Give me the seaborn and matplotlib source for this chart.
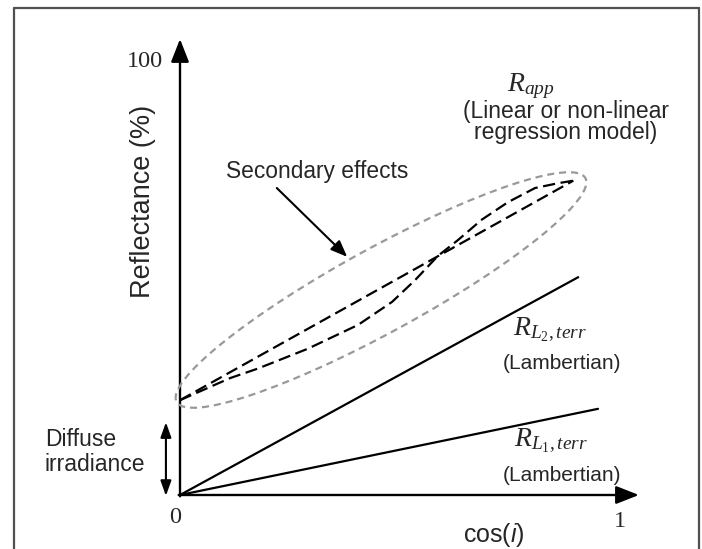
import numpy as np
import pandas as pd
import seaborn as sns
import matplotlib
matplotlib.use("Agg")
import matplotlib.pyplot as plt
from matplotlib.patches import Ellipse
from matplotlib.lines import Line2D
import matplotlib.transforms as mtransforms

# ---- data ----
cos_i_L1 = [0.0, 0.95]
refl_L1 = [0.0, 19.9]
cos_i_L2 = [0.0, 0.905]
refl_L2 = [0.0, 50.3]
cos_i_app_lin = [0.0, 0.894]
refl_app_lin = [21.9, 72.6]
cos_i_app_nl = [0.0, 0.114, 0.177, 0.291, 0.405, 0.482, 0.534, 0.586,
                0.632, 0.686, 0.745, 0.807, 0.859, 0.894]
refl_app_nl = [21.9, 27.0, 29.2, 33.8, 39.3, 44.6, 49.6, 55.2,
               58.9, 63.6, 67.6, 70.9, 72.0, 72.6]
x_tick_labels = ["0", "1"]
y_tick_label = "100"

sns.set_theme(style="white")
plt.rcParams["font.family"] = ["Liberation Sans", "DejaVu Sans"]
plt.rcParams["mathtext.fontset"] = "custom"
plt.rcParams["mathtext.rm"] = "Liberation Serif"
plt.rcParams["mathtext.it"] = "Liberation Serif:italic"
plt.rcParams["mathtext.sf"] = "Liberation Sans:italic"

W, H = 702, 549
fig = plt.figure(figsize=(W / 100, H / 100), dpi=100)
ax = fig.add_axes([0, 0, 1, 1])
# pixel mapping: x=0 -> 180px, x=1 -> 620px ; y=0 -> 495px, y=100 -> 62px
sx, sy = 440.0, 4.33
ax.set_xlim(-180 / sx, (W - 180) / sx)
ax.set_ylim(-(H - 495) / sy, 495 / sy)
ax.axis("off")

pix = mtransforms.Affine2D().scale(1 / 100) + fig.dpi_scale_trans

# frame
frame_kw = dict(color="#505050", lw=1.6, transform=pix)
fig.add_artist(Line2D([13.5, 13.5], [0, H - 7.5], **frame_kw))
fig.add_artist(Line2D([13.5, 699], [H - 7.5, H - 7.5], **frame_kw))
fig.add_artist(Line2D([699, 699], [0, H - 7.5], **frame_kw))

# axes arrows
axis_arrow = dict(arrowstyle="-|>,head_length=1.4,head_width=0.55", lw=1.7,
                  color="black", mutation_scale=10, shrinkA=0, shrinkB=0)
ax.annotate("", xy=(0, 105.3), xytext=(0, -0.3), arrowprops=axis_arrow)
ax.annotate("", xy=(1.043, 0), xytext=(-0.003, 0), arrowprops=axis_arrow)

# Lambertian lines
sns.lineplot(x=cos_i_L1, y=refl_L1, ax=ax, color="black", lw=1.6, sort=False)
sns.lineplot(x=cos_i_L2, y=refl_L2, ax=ax, color="black", lw=1.6, sort=False)

# R_app curves
sns.lineplot(x=cos_i_app_lin, y=refl_app_lin, ax=ax, color="black", lw=1.6,
             sort=False, linestyle=(0, (5.5, 2.5)))
sns.lineplot(x=cos_i_app_nl, y=refl_app_nl, ax=ax, color="black", lw=1.6,
             sort=False, linestyle=(0, (5.5, 2.5)))

# ellipse (secondary effects)
ell = Ellipse(xy=(381, H - 290), width=2 * 233, height=2 * 42, angle=28.7,
              transform=pix, fill=False, edgecolor="#999999", lw=1.6,
              linestyle=(0, (3.2, 2.2)))
fig.add_artist(ell)

# tick labels
serif = ["Liberation Serif", "DejaVu Serif"]
ax.text(-0.0795, 100.2, y_tick_label, family=serif, fontsize=17.5, ha="center", va="center")
ax.text(-0.011, -5.1, x_tick_labels[0], family=serif, fontsize=17.5, ha="center", va="center")
ax.text(1.0, -6.2, x_tick_labels[1], family=serif, fontsize=17.5, ha="center", va="center")

# axis titles
ax.text(0.714, -9.2, r"cos($\mathsf{i}$)", fontsize=18, ha="center", va="center")
ax.text(-0.084, 67.7, "Reflectance (%)", fontsize=19.5, rotation=90, ha="center", va="center")

# annotations
ax.text(0.798, 94.5, r"$R_{app}$", fontsize=20, ha="center", va="center")
ax.text(0.877, 86.2, "(Linear or non-linear\nregression model)", fontsize=16.5,
        ha="center", va="center", linespacing=0.9)
ax.text(0.311, 74.8, "Secondary effects", fontsize=16.4, ha="center", va="center")
ax.annotate("", xy=(0.380, 55.0), xytext=(0.220, 70.9),
            arrowprops=dict(arrowstyle="-|>,head_length=1.0,head_width=0.4", lw=1.5,
                            color="black", mutation_scale=10, shrinkA=0, shrinkB=0))

ax.text(0.841, 38.1, r"$R_{L_2,terr}$", fontsize=20, ha="center", va="center")
ax.text(0.868, 30.3, "(Lambertian)", fontsize=15, ha="center", va="center")
ax.text(0.843, 12.5, r"$R_{L_1,terr}$", fontsize=20, ha="center", va="center")
ax.text(0.868, 4.6, "(Lambertian)", fontsize=15, ha="center", va="center")

ax.text(-0.307, 10.0, "Diffuse\nirradiance", fontsize=16.5, ha="left", va="center",
        linespacing=1.12)
ax.annotate("", xy=(-0.032, 16.8), xytext=(-0.032, -0.2),
            arrowprops=dict(arrowstyle="<|-|>,head_length=0.9,head_width=0.32", lw=1.5,
                            color="black", mutation_scale=10, shrinkA=0, shrinkB=0))

fig.savefig("out.png", dpi=100)
